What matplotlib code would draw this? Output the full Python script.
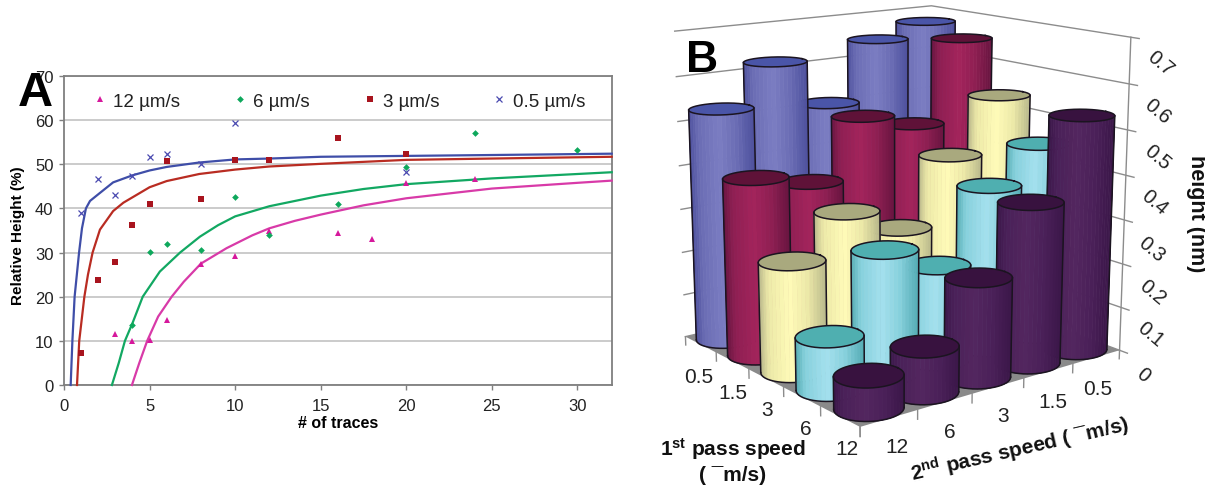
import numpy as np
import matplotlib
matplotlib.use('Agg')
import matplotlib.pyplot as plt
from matplotlib.colors import to_rgb
from mpl_toolkits.mplot3d.art3d import Poly3DCollection
from mpl_toolkits.mplot3d import proj3d

plt.rcParams['font.family'] = 'Liberation Sans'
plt.rcParams['mathtext.fontset'] = 'custom'
plt.rcParams['mathtext.bf'] = 'Liberation Sans:bold'
plt.rcParams['mathtext.rm'] = 'Liberation Sans'

# ---------- panel A data ----------
pink_x = [3, 4, 5, 6, 8, 10, 12, 16, 18, 20, 24]
pink_y = [11.5, 10, 10.3, 14.7, 27.5, 29.2, 35, 34.5, 33, 45.8, 46.7]
green_x = [4, 5, 6, 8, 10, 12, 16, 20, 24, 30]
green_y = [13.5, 30.2, 32, 30.5, 42.5, 34, 41, 49.4, 57.2, 53.2]
red_x = [1, 2, 3, 4, 5, 6, 8, 10, 12, 16, 20]
red_y = [7.3, 23.8, 27.8, 36.3, 41, 50.7, 42.2, 51, 51, 56, 52.4]
blue_x = [1, 2, 3, 4, 5, 6, 8, 10, 20]
blue_y = [39, 46.7, 43, 47.3, 51.7, 52.4, 50, 59.4, 48.2]

pink_fit_x = [3.97, 4.4, 4.86, 5.5, 6.29, 7, 8, 9.5, 11, 12, 13.5, 15, 17.5, 20, 25, 30, 32]
pink_fit_y = [0, 5, 10, 15.5, 20, 23.4, 27.5, 31, 33.9, 35.5, 37.2, 38.6, 40.7, 42.3, 44.5, 45.8, 46.3]
green_fit_x = [2.8, 3.2, 3.56, 4, 4.6, 5.6, 6.78, 7.94, 9, 10, 12, 15, 17.5, 20, 25, 30, 32]
green_fit_y = [0, 5, 10, 14, 20, 25.7, 30, 33.6, 36.2, 38.2, 40.5, 42.9, 44.4, 45.5, 46.8, 47.8, 48.2]
red_fit_x = [0.76, 0.89, 1.19, 1.4, 1.67, 2.1, 2.87, 3.47, 5, 6, 7.9, 10, 12, 15, 20, 25, 32]
red_fit_y = [0, 10, 20, 25, 30, 35.2, 39.4, 41.3, 44.8, 46.2, 47.8, 48.8, 49.5, 50.1, 51, 51.3, 51.7]
blue_fit_x = [0.39, 0.49, 0.62, 0.88, 1.05, 1.28, 1.52, 2, 2.87, 4, 5, 6, 7.9, 10, 12, 15, 20, 25, 32]
blue_fit_y = [0, 10, 20, 30, 35.5, 40, 41.7, 43.2, 45.9, 47.5, 48.6, 49.4, 50.4, 51.1, 51.3, 51.7, 51.9, 52.1, 52.4]

legend_labels = ['12 µm/s', '6 µm/s', '3 µm/s', '0.5 µm/s']

# ---------- panel B data (rows = 1st pass, order of 2nd pass below) ----------
first_pass = ['0.5', '1.5', '3', '6', '12']
second_pass = ['12', '6', '3', '1.5', '0.5']
height_first_05 = [0.53, 0.62, 0.51, 0.645, 0.675]
height_first_15 = [0.40, 0.37, 0.50, 0.465, 0.65]
height_first_3 = [0.245, 0.33, 0.27, 0.415, 0.535]
height_first_6 = [0.115, 0.275, 0.215, 0.37, 0.445]
height_first_12 = [0.07, 0.10, 0.22, 0.36, 0.53]
z_labels = ['0', '0.1', '0.2', '0.3', '0.4', '0.5', '0.6', '0.7']
z_values = [0, 0.1, 0.2, 0.3, 0.4, 0.5, 0.6, 0.7]

W, H = 1205, 489
fig = plt.figure(figsize=(W / 100, H / 100), dpi=100, facecolor='white')


def fx(p):
    return p / W


def fy(p):
    return 1 - p / H


# ---------- panel A ----------
ax = fig.add_axes([fx(64), fy(386), 547.7 / W, 309 / H])
ax.set_xlim(0, 32)
ax.set_ylim(0, 70)
ax.set_xticks([0, 5, 10, 15, 20, 25, 30])
ax.set_yticks(range(0, 71, 10))
ax.grid(axis='y', color='#bdbdbd', lw=1.1)
ax.set_axisbelow(True)
for s in ax.spines.values():
    s.set_color('#7f7f7f')
    s.set_linewidth(1.3)
ax.tick_params(axis='x', color='#7f7f7f', length=3.5, width=1, pad=6, labelsize=12, labelcolor='#222222')
ax.tick_params(axis='y', color='#7f7f7f', length=3.5, width=1, pad=4, labelsize=12, labelcolor='#222222')

series = [
    (pink_x, pink_y, pink_fit_x, pink_fit_y, '^', '#d6189c', '#d83aa8', 4.8),
    (green_x, green_y, green_fit_x, green_fit_y, 'D', '#0ea85c', '#12a862', 3.4),
    (red_x, red_y, red_fit_x, red_fit_y, 's', '#a8141e', '#b92c22', 4.6),
    (blue_x, blue_y, blue_fit_x, blue_fit_y, 'x', '#4a4ab0', '#3f4ea8', 4.6),
]
for (px, py, qx, qy, m, c, lc, ms), lab in zip(series, legend_labels):
    ax.plot(qx, qy, color=lc, lw=1.6, solid_joinstyle='round', clip_on=False, zorder=3)
    ax.plot(px, py, ls='none', marker=m, color=c, ms=ms, mew=0.9 if m == 'x' else 0,
            label=lab, zorder=4)
ax.legend(loc='center left', bbox_to_anchor=((90.6 - 64) / 547.7, (386 - 102) / 309),
          ncol=4, frameon=False, fontsize=13.5, borderpad=0, borderaxespad=0,
          handlelength=1, handletextpad=0.2, columnspacing=2.7, numpoints=1,
          labelcolor='#222222')
ax.set_xlabel('# of traces', fontweight='bold', fontsize=11.5)
ax.xaxis.set_label_coords(0.5, -(423 - 386) / 309)
ax.xaxis.label.set_va('center')
ax.set_ylabel('Relative Height (%)', fontweight='bold', fontsize=11)
ax.yaxis.set_label_coords((18 - 64) / 547.7, (386 - 236) / 309)
ax.yaxis.label.set_va('center')

# ---------- panel B ----------
ELEV, AZIM = 14.0, -127.8
ax3 = fig.add_axes([0, 0, 1000 / W, 1000 / H], projection='3d', computed_zorder=False)
ax3.set_proj_type('persp', focal_length=0.54)
ax3.view_init(elev=ELEV, azim=AZIM)
ax3.set_box_aspect((348, 326, 340))
ax3.set_xlim(0, 5)
ax3.set_ylim(0, 5)
ax3.set_zlim(0, 0.7)
ax3.set_autoscale_on(False)
ax3.set_axis_off()
ax3.patch.set_alpha(0)


def project(xs, ys, zs):
    X, Y, _ = proj3d.proj_transform(np.asarray(xs, float), np.asarray(ys, float),
                                    np.asarray(zs, float), ax3.get_proj())
    return np.asarray(X), np.asarray(Y)


# align the projected box with the panel's place in the figure
anchors_world = np.array([[0, 5, 0], [5, 0, 0], [0, 0, 0], [5, 0, 0.7], [0, 5, 0.7], [5, 5, 0.7]])
anchors_px = np.array([[683, H - 337], [1120, H - 353], [867, H - 425],
                       [1132, H - 38], [673, H - 32], [927, H - 9]], float)
ax3.apply_aspect()
X, Y = project(*anchors_world.T)
P = ax3.transData.transform(np.column_stack([X, Y]))
pm, tm = P.mean(0), anchors_px.mean(0)
s = ((P - pm) * (anchors_px - tm)).sum() / ((P - pm) ** 2).sum()
t = tm - s * pm
ax3.set_position([t[0] / W, t[1] / H, s * 1000 / W, s * 1000 / H])

GRAY = '#8c8c8c'
floor = Poly3DCollection([[(0, 0, 0), (5, 0, 0), (5, 5, 0), (0, 5, 0)]], facecolor='#8a8a8a',
                         edgecolor='none', zorder=1)
ax3.add_collection3d(floor, autolim=False)
for z in z_values:
    ax3.plot([0, 5, 5, 5.0], [5.0, 5, 0, -0.18], [z, z, z, z], color=GRAY, lw=1.0, zorder=1.5)
ax3.plot([5, 5], [0, 0], [0, 0.7], color=GRAY, lw=1.0, zorder=1.5)
for k in range(6):
    ax3.plot([k, k], [0, 0], [0, -0.02], color=GRAY, lw=1.0, zorder=1.5)
    ax3.plot([0, 0], [k, k], [0, -0.02], color=GRAY, lw=1.0, zorder=1.5)

palette = {
    0: ('#4c4f9c', '#6a6cb4', '#7b7dc2', '#4a55a8'),
    1: ('#66143f', '#8e1f52', '#a3245c', '#5f1238'),
    2: ('#b6b68a', '#ece9a8', '#fffbb8', '#a9a97e'),
    3: ('#52aab2', '#86d0dc', '#a4e0ee', '#4fafb0'),
    4: ('#3a1648', '#4a2058', '#53265f', '#38123f'),
}
rows = [height_first_05, height_first_15, height_first_3, height_first_6, height_first_12]
R = 0.505
OUT = '#1b1420'
theta = np.linspace(0, 2 * np.pi, 361)[:-1]
zo = 2.0
for i in range(5):
    edge, mid, light, top = [np.array(to_rgb(c)) for c in palette[i]]
    for j in range(4, -1, -1):
        h = rows[i][j]
        cx, cy = j + 0.5, 4 - i + 0.5
        ring_x = cx + R * np.cos(theta)
        ring_y = cy + R * np.sin(theta)
        sx, _ = project(ring_x, ring_y, np.zeros_like(ring_x))
        a = np.deg2rad(AZIM)
        # near half of the ring, from the screen-left to the screen-right silhouette
        rel = (theta - a + np.pi) % (2 * np.pi) - np.pi
        near = np.abs(rel) < np.pi / 2 + 0.35
        order = np.argsort(rel[near])
        th_near = rel[near][order] + a
        sx_near = sx[near][order]
        th0 = th_near[np.argmin(sx_near)]
        th1 = th_near[np.argmax(sx_near)]
        th = np.linspace(th0, th1, 25)
        qx = cx + R * np.cos(th)
        qy = cy + R * np.sin(th)
        faces, cols = [], []
        for k in range(24):
            faces.append([(qx[k], qy[k], 0), (qx[k + 1], qy[k + 1], 0),
                          (qx[k + 1], qy[k + 1], h), (qx[k], qy[k], h)])
            u = (1 - np.cos(np.pi * (k + 0.5) / 24)) / 2
            c = [np.interp(u, [0, 0.14, 0.45, 0.72, 1], [edge[n], mid[n], light[n], mid[n], edge[n]])
                 for n in range(3)]
            cols.append(tuple(c))
        body = Poly3DCollection(faces, facecolors=cols, edgecolors=cols, linewidths=0.5, zorder=zo)
        ax3.add_collection3d(body, autolim=False)
        capv = [list(zip(ring_x, ring_y, np.full_like(ring_x, h)))]
        cap = Poly3DCollection(capv, facecolor=top, edgecolor='none', zorder=zo + 0.1)
        ax3.add_collection3d(cap, autolim=False)
        ax3.plot(np.r_[ring_x, ring_x[0]], np.r_[ring_y, ring_y[0]], np.full(361, h),
                 color=OUT, lw=1.1, zorder=zo + 0.2)
        ax3.plot(qx, qy, np.zeros_like(qx), color=OUT, lw=1.1, zorder=zo + 0.2)
        ax3.plot([qx[0], qx[0]], [qy[0], qy[0]], [0, h], color=OUT, lw=1.1, zorder=zo + 0.2)
        ax3.plot([qx[-1], qx[-1]], [qy[-1], qy[-1]], [0, h], color=OUT, lw=1.1, zorder=zo + 0.2)
        zo += 1

# ---------- texts ----------
TXT = '#222222'
first_pos = [(699, 378), (733, 394), (767, 411), (806, 430), (847, 450)]
second_pos = [(897, 448), (950, 433), (1003, 417), (1053, 403), (1098, 390)]
z_pos = [(1143, 375), (1150, 335), (1152, 293), (1152, 250), (1155, 203), (1157, 158), (1158, 112), (1160, 64)]
for lab, (px, py) in zip(first_pass, first_pos):
    fig.text(fx(px), fy(py), lab, fontsize=15, ha='center', va='center', color=TXT)
for lab, (px, py) in zip(second_pass, second_pos):
    fig.text(fx(px), fy(py), lab, fontsize=15, ha='center', va='center', color=TXT)
for lab, (px, py) in zip(z_labels, z_pos):
    fig.text(fx(px), fy(py), lab, fontsize=14.5, ha='center', va='center', color=TXT,
             rotation=-40, rotation_mode='anchor')
fig.text(fx(1196), fy(214), 'height (nm)', fontsize=15.5, fontweight='bold', rotation=-90,
         ha='center', va='center', color='#111111')
fig.text(fx(733), fy(449), r'$\mathbf{1^{st}}$ pass speed', fontsize=15, fontweight='bold',
         ha='center', va='center', color='#111111')
fig.text(fx(733), fy(476), '( ¯m/s)', fontsize=15, fontweight='bold',
         ha='center', va='center', color='#111111')
fig.text(fx(1020), fy(450), r'$\mathbf{2^{nd}}$ pass speed ( ¯m/s)', fontsize=15, fontweight='bold',
         rotation=13, rotation_mode='anchor', ha='center', va='center', color='#111111')
fig.text(fx(35), fy(93), 'A', fontsize=35, fontweight='bold', ha='center', va='center', color='black')
fig.text(fx(702), fy(60), 'B', fontsize=32, fontweight='bold', ha='center', va='center', color='black')

fig.savefig('out.png', dpi=100)
